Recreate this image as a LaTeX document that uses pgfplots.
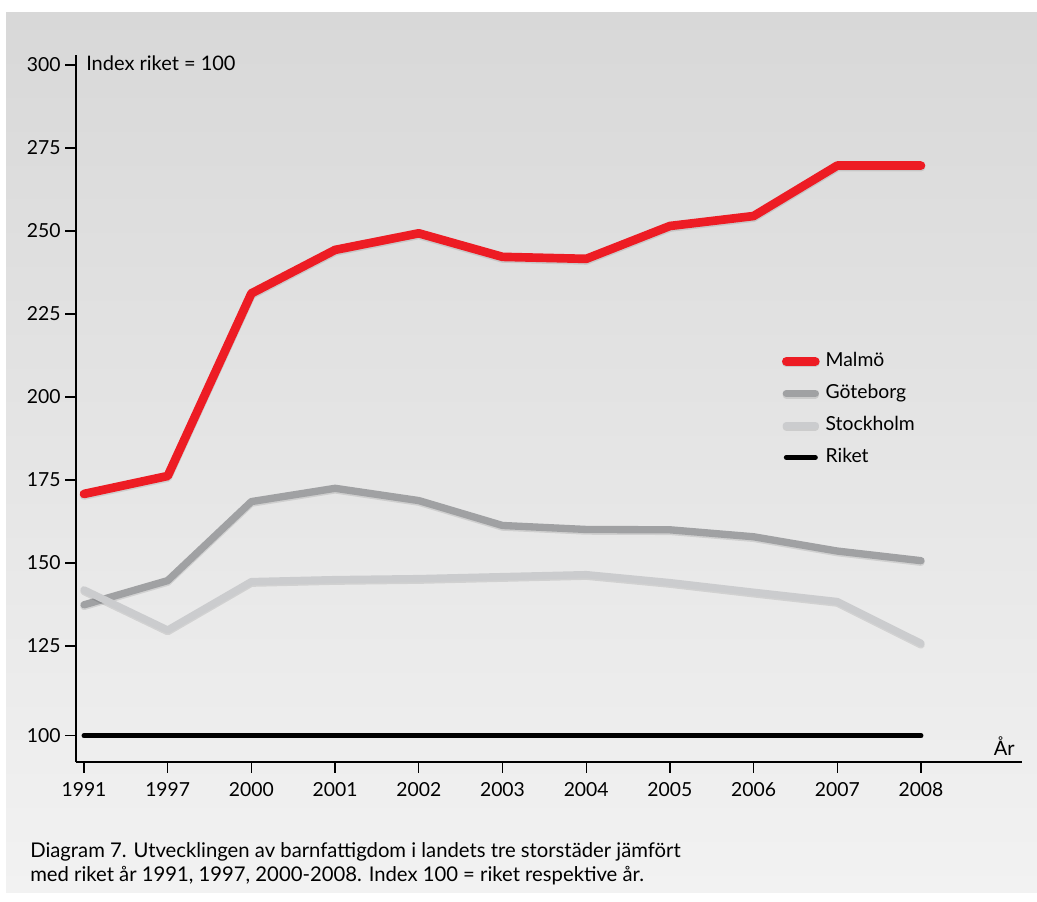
\documentclass[border=0pt]{standalone}
\usepackage{fontspec}
\setmainfont{Lato}
\usepackage{pgfplots}
\pgfplotsset{compat=1.18}
\definecolor{malmo}{RGB}{237,28,36}
\definecolor{gbg}{RGB}{160,161,163}
\definecolor{sthlm}{RGB}{203,204,206}
\definecolor{bgtop}{RGB}{216,216,216}
\definecolor{bgbot}{RGB}{242,242,242}
\tikzset{shadowed/.style={preaction={draw, black, opacity=0.10, line width=#1, transform canvas={yshift=-1.2pt}}}}
\begin{document}
\begin{tikzpicture}
\fill[white] (0pt,0pt) rectangle (777.75pt,675.75pt);
\path[use as bounding box] (0pt,0pt) rectangle (777.75pt,675.75pt);
\shade[top color=bgtop, bottom color=bgbot] (4.5pt,6.75pt) rectangle (777.75pt,666pt);
\begin{axis}[
  at={(57pt,104.25pt)}, anchor=south west,
  scale only axis, width=709.5pt, height=530.25pt,
  xmin=-0.0956, xmax=11.207, ymin=90.06, ymax=303,
  axis x line*=bottom, axis y line*=left,
  axis line style={-, line width=2pt, black},
  xtick={0,...,10},
  xticklabels={1991,1997,2000,2001,2002,2003,2004,2005,2006,2007,2008},
  ytick={98,125,150,175,200,225,250,275,300},
  yticklabels={100,125,150,175,200,225,250,275,300},
  tick align=outside, major tick length=8pt,
  tick style={line width=1pt, black},
  /pgf/number format/assume math mode=true,
  tick label style={font=\fontsize{14.5}{17}\selectfont},
  xticklabel style={yshift=-4pt},
  legend style={at={(0.746,0.582)}, anchor=north west, draw=none, fill=none,
    inner sep=0pt, row sep=8pt, font=\fontsize{14.5}{17}\selectfont,
    nodes={inner sep=1pt, text height=10.5pt, text depth=3.5pt},
    /tikz/every odd column/.append style={column sep=3.5pt}},
  legend cell align=left,
  legend image code/.code={\draw[#1, line cap=round] (0pt,0pt) -- (21.75pt,0pt);},
  clip=false,
]
\addplot[malmo, line width=6.5pt, line join=round, line cap=round, shadowed=6.5pt] coordinates {
 (0,170.8) (1,176.2) (2,231.2) (3,244.3) (4,249.3) (5,242.2) (6,241.6) (7,251.5) (8,254.5) (9,269.7) (10,269.7)};
\addlegendentry{Malmö}
\addplot[gbg, line width=5.5pt, line join=round, line cap=round, shadowed=5.5pt] coordinates {
 (0,137.4) (1,144.7) (2,168.5) (3,172.5) (4,168.8) (5,161.3) (6,160.1) (7,160.0) (8,157.9) (9,153.6) (10,150.7)};
\addlegendentry{Göteborg}
\addplot[sthlm, line width=5.5pt, line join=round, line cap=round, shadowed=5.5pt] coordinates {
 (0,141.9) (1,129.8) (2,144.4) (3,145.0) (4,145.3) (5,145.9) (6,146.5) (7,144.1) (8,141.2) (9,138.4) (10,125.8)};
\addlegendentry{Stockholm}
\addplot[black, line width=3.75pt, line cap=round] coordinates {
 (0,98) (1,98) (2,98) (3,98) (4,98) (5,98) (6,98) (7,98) (8,98) (9,98) (10,98)};
\addlegendentry{Riket}
\end{axis}
\node[anchor=base west, inner sep=0pt, font=\fontsize{15}{17}\selectfont] at (64.5pt,622.7pt) {Index riket = 100};
\node[anchor=base east, inner sep=0pt, font=\fontsize{15}{17}\selectfont] at (761.25pt,109.5pt) {År};
\node[anchor=base west, inner sep=0pt, font=\fontsize{15.2}{18}\selectfont] at (22.5pt,32.5pt) {Diagram 7. Utvecklingen av barnfattigdom i landets tre storstäder jämfört};
\node[anchor=base west, inner sep=0pt, font=\fontsize{15.2}{18}\selectfont] at (22.5pt,15pt) {med riket år 1991, 1997, 2000-2008. Index 100 = riket respektive år.};
\end{tikzpicture}
\end{document}
